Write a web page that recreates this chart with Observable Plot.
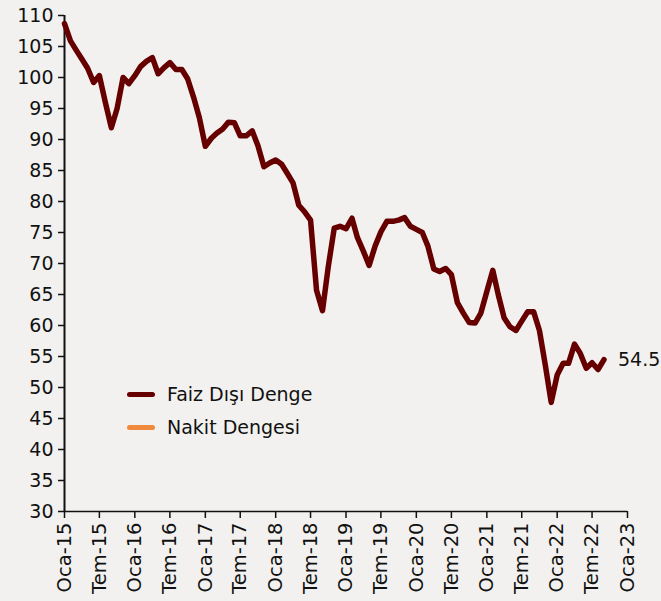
<!DOCTYPE html>
<html>
<head>
<meta charset="utf-8">
<script src="https://cdn.jsdelivr.net/npm/d3@7"></script>
<script src="https://cdn.jsdelivr.net/npm/@observablehq/plot@0.6"></script>
<style>
  html, body { margin: 0; padding: 0; background: #f2f1ef; }
  #wrap { position: relative; width: 661px; height: 601px; font-family: "DejaVu Sans", sans-serif; }
  .leg { position: absolute; left: 127px; display: flex; align-items: center; font-size: 19px; color: #111; }
  .sw { width: 28px; height: 5px; border-radius: 3px; margin-right: 12px; }
</style>
</head>
<body>
<div id="wrap"></div>
<script>
// Monthly series, Oca-15 .. Eyl-22
const startYear = 2015;
const faizDisiDenge = [
  108.7,105.9,104.5,103.0,101.5,99.2,100.3,96.0,91.9,95.0,100.0,99.0,
  100.3,101.8,102.6,103.2,100.6,101.6,102.4,101.3,101.3,99.8,96.8,93.5,
  88.9,90.2,91.0,91.7,92.8,92.7,90.6,90.6,91.4,89.0,85.6,86.2,
  86.7,86.0,84.6,83.0,79.4,78.3,77.0,65.7,62.4,69.5,75.7,76.0,
  75.6,77.3,74.2,72.0,69.7,72.8,75.1,76.8,76.8,77.0,77.4,76.0,
  75.5,75.0,72.8,69.1,68.7,69.2,68.2,63.7,62.0,60.5,60.4,62.0,
  65.5,68.9,65.0,61.2,59.8,59.2,60.7,62.2,62.2,59.2,53.5,47.6,
  52.0,53.9,53.9,57.0,55.5,53.1,54.0,52.9,54.5
];
const seriesNames = ["Faiz Dışı Denge", "Nakit Dengesi"];
const seriesColors = ["#660000", "#f08a3c"];
const monthLabels = {0: "Oca", 6: "Tem"};
const yTicks = [30,35,40,45,50,55,60,65,70,75,80,85,90,95,100,105,110];
const tickYears = [2015,2016,2017,2018,2019,2020,2021,2022,2023];

const data = faizDisiDenge.map((v, i) => ({
  date: new Date(Date.UTC(startYear, i, 1)),
  value: v
}));
const xTicks = [];
tickYears.forEach(y => { xTicks.push(new Date(Date.UTC(y, 0, 1))); if (y < 2023) xTicks.push(new Date(Date.UTC(y, 6, 1))); });
const last = data[data.length - 1];

const chart = Plot.plot({
  width: 661,
  height: 601,
  marginLeft: 64,
  marginRight: 34,
  marginTop: 15,
  marginBottom: 90,
  style: { background: "transparent", color: "#111", fontFamily: "DejaVu Sans, sans-serif", fontSize: "19px" },
  x: { type: "utc", domain: [new Date(Date.UTC(2015,0,1)), new Date(Date.UTC(2023,0,1))] },
  y: { domain: [30, 110] },
  marks: [
    Plot.axisY({ ticks: yTicks, tickSize: 6, tickPadding: 5, label: null, fontSize: 19, stroke: "#111", strokeWidth: 1.5 }),
    Plot.axisX({ ticks: xTicks, tickSize: 7, tickPadding: 4, tickRotate: -90, label: null, fontSize: 19.5,
      stroke: "#111", strokeWidth: 1.5,
      tickFormat: d => `${monthLabels[d.getUTCMonth()]}-${String(d.getUTCFullYear()).slice(2)}` }),
    Plot.ruleX([new Date(Date.UTC(2015,0,1))], { y1: 30, y2: 110, stroke: "#111", strokeWidth: 2 }),
    Plot.ruleY([30], { stroke: "#111", strokeWidth: 1.5 }),
    Plot.line(data, { x: "date", y: "value", stroke: seriesColors[0], strokeWidth: 5.5, strokeLinejoin: "round", strokeLinecap: "round" }),
    Plot.text([last], { x: "date", y: "value", text: d => d.value.toFixed(1), dx: 14, textAnchor: "start", fontSize: 19, fill: "#111" })
  ]
});
const wrap = document.getElementById("wrap");
wrap.appendChild(chart);
seriesNames.forEach((n, i) => {
  const el = document.createElement("div");
  el.className = "leg";
  el.style.top = (383 + i * 33) + "px";
  el.innerHTML = `<span class="sw" style="background:${seriesColors[i]}"></span><span>${n}</span>`;
  wrap.appendChild(el);
});
</script>
</body>
</html>
